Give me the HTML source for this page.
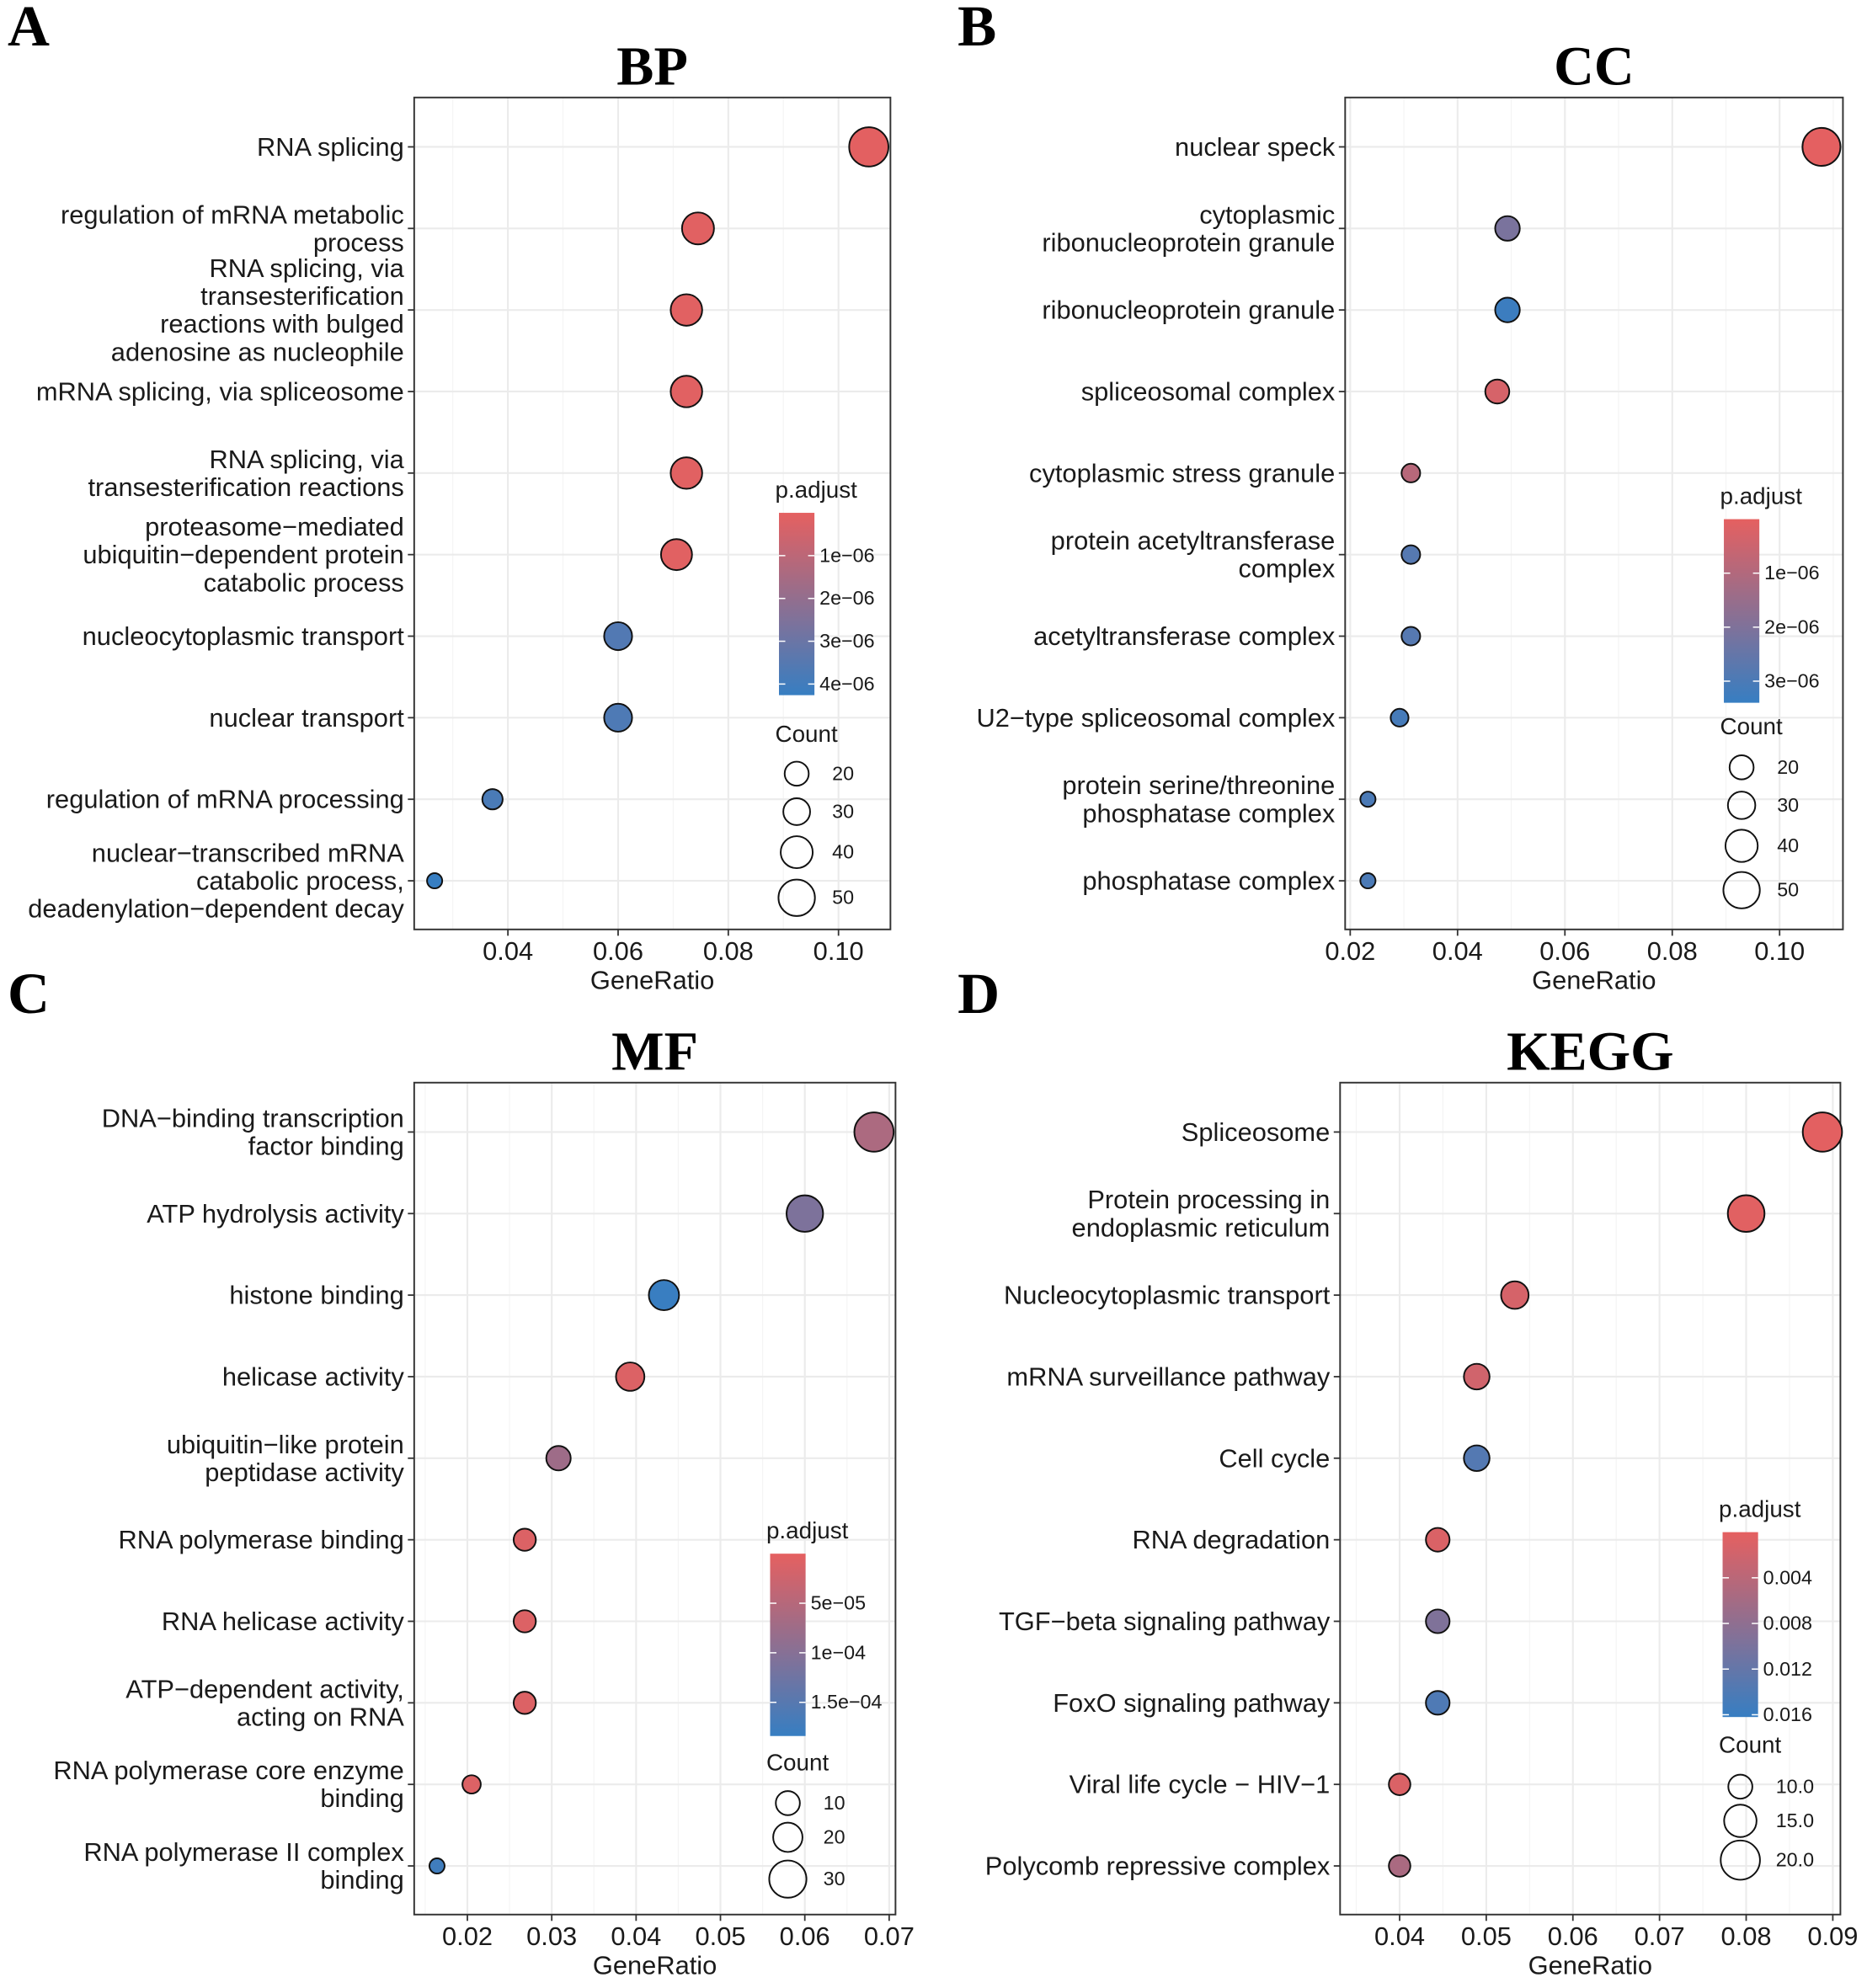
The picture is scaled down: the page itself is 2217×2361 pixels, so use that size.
<!DOCTYPE html>
<html><head><meta charset="utf-8"><style>html,body{margin:0;padding:0;background:#fff}svg{display:block}</style></head>
<body>
<svg id="fig" xmlns="http://www.w3.org/2000/svg" width="2217" height="2361" viewBox="0 0 1474 1570" preserveAspectRatio="none" font-family="Liberation Sans, Arial, sans-serif">
<rect width="1474" height="1570" fill="#fff"/>
</svg>
<script>
// ---- Data ----
const bpTerms = ["RNA splicing","regulation of mRNA metabolic\nprocess","RNA splicing, via\ntransesterification\nreactions with bulged\nadenosine as nucleophile","mRNA splicing, via spliceosome","RNA splicing, via\ntransesterification reactions","proteasome\u2212mediated\nubiquitin\u2212dependent protein\ncatabolic process","nucleocytoplasmic transport","nuclear transport","regulation of mRNA processing","nuclear\u2212transcribed mRNA\ncatabolic process,\ndeadenylation\u2212dependent decay"];
const bpRatio = [0.1055,0.0745,0.0724,0.0724,0.0724,0.0706,0.0600,0.0600,0.0372,0.0267];
const bpCount = [57,40,39,39,39,38,32,32,20,14];
const bpPadj = [0.05e-6,0.1e-6,0.1e-6,0.1e-6,0.1e-6,0.1e-6,3.6e-6,3.7e-6,3.8e-6,4.26e-6];
const bpXTicks = [0.04,0.06,0.08,0.10];
const bpXTickLabels = ["0.04","0.06","0.08","0.10"];
const bpCbTicks = [1e-6,2e-6,3e-6,4e-6];
const bpCbLabels = ["1e\u221206","2e\u221206","3e\u221206","4e\u221206"];
const bpSizeBreaks = [20,30,40,50];

const ccTerms = ["nuclear speck","cytoplasmic\nribonucleoprotein granule","ribonucleoprotein granule","spliceosomal complex","cytoplasmic stress granule","protein acetyltransferase\ncomplex","acetyltransferase complex","U2\u2212type spliceosomal complex","protein serine/threonine\nphosphatase complex","phosphatase complex"];
const ccRatio = [0.1078,0.0493,0.0493,0.0474,0.0313,0.0313,0.0313,0.0292,0.0233,0.0233];
const ccCount = [54,25,25,24,16,16,16,15,12,12];
const ccPadj = [0.02e-6,2.1e-6,3.3e-6,0.3e-6,0.9e-6,2.8e-6,2.8e-6,3.1e-6,3.0e-6,3.0e-6];
const ccXTicks = [0.02,0.04,0.06,0.08,0.10];
const ccXTickLabels = ["0.02","0.04","0.06","0.08","0.10"];
const ccCbTicks = [1e-6,2e-6,3e-6];
const ccCbLabels = ["1e\u221206","2e\u221206","3e\u221206"];
const ccSizeBreaks = [20,30,40,50];

const mfTerms = ["DNA\u2212binding transcription\nfactor binding","ATP hydrolysis activity","histone binding","helicase activity","ubiquitin\u2212like protein\npeptidase activity","RNA polymerase binding","RNA helicase activity","ATP\u2212dependent activity,\nacting on RNA","RNA polymerase core enzyme\nbinding","RNA polymerase II complex\nbinding"];
const mfRatio = [0.0682,0.0600,0.0433,0.0393,0.0308,0.0268,0.0268,0.0268,0.0205,0.0164];
const mfCount = [33,29,21,19,15,13,13,13,10,8];
const mfPadj = [6e-5,11e-5,18.2e-5,1e-5,7.5e-5,1e-5,1e-5,1e-5,1e-5,17.5e-5];
const mfXTicks = [0.02,0.03,0.04,0.05,0.06,0.07];
const mfXTickLabels = ["0.02","0.03","0.04","0.05","0.06","0.07"];
const mfCbTicks = [5e-5,1e-4,1.5e-4];
const mfCbLabels = ["5e\u221205","1e\u221204","1.5e\u221204"];
const mfSizeBreaks = [10,20,30];

const kgTerms = ["Spliceosome","Protein processing in\nendoplasmic reticulum","Nucleocytoplasmic transport","mRNA surveillance pathway","Cell cycle","RNA degradation","TGF\u2212beta signaling pathway","FoxO signaling pathway","Viral life cycle \u2212 HIV\u22121","Polycomb repressive complex"];
const kgRatio = [0.0888,0.0800,0.0533,0.0489,0.0489,0.0444,0.0444,0.0444,0.0400,0.0400];
const kgCount = [20,18,12,11,11,10,10,10,9,9];
const kgPadj = [0.0002,0.0004,0.0015,0.002,0.0135,0.001,0.0095,0.014,0.001,0.0055];
const kgXTicks = [0.04,0.05,0.06,0.07,0.08,0.09];
const kgXTickLabels = ["0.04","0.05","0.06","0.07","0.08","0.09"];
const kgCbTicks = [0.004,0.008,0.012,0.016];
const kgCbLabels = ["0.004","0.008","0.012","0.016"];
const kgSizeBreaks = [10,15,20];

// ---- Drawing ----
const NS="http://www.w3.org/2000/svg";
const svg=document.getElementById('fig');
function mk(tag,attrs,parent){const e=document.createElementNS(NS,tag);for(const k in attrs)e.setAttribute(k,attrs[k]);(parent||svg).appendChild(e);return e;}
const RED=[229,96,96],BLUE=[55,126,194];
function col(t){t=Math.max(0,Math.min(1,t));const c=RED.map((v,i)=>Math.round(v+(BLUE[i]-v)*t));return `rgb(${c[0]},${c[1]},${c[2]})`;}
const FS=20.5;

function panel(cfg){
  const g=mk('g',{});
  
  
  const L=cfg.box[0],T=cfg.box[1],R=cfg.box[2],B=cfg.box[3];
  const x=v=>cfg.x0px+(v-cfg.x0)/(cfg.x1-cfg.x0)*(cfg.x1px-cfg.x0px);
  const rowY=i=>cfg.row0+i*cfg.rowStep;
  const let_=mk('text',{x:cfg.letter[1],y:cfg.letter[2],'font-family':'Liberation Serif, serif','font-weight':'bold','font-size':46},g);
  let_.textContent=cfg.letter[0];
  
  
  const tt=mk('text',{x:(L+R)/2,y:T-10,'text-anchor':'middle','font-family':'Liberation Serif, serif','font-weight':'bold','font-size':44},g);
  tt.textContent=cfg.title;
  
  
  const step=cfg.xTicks[1]-cfg.xTicks[0];
  for(let v=cfg.xTicks[0]-step*2;v<=cfg.xTicks[cfg.xTicks.length-1]+step*2;v+=step/2){
    const px=x(v); if(px<=L||px>=R)continue;
    const major=cfg.xTicks.some(t=>Math.abs(t-v)<1e-9);
    mk('line',{x1:px,x2:px,y1:T,y2:B,stroke:major?'#EBEBEB':'#F4F4F4','stroke-width':major?1.4:0.8},g);
  }
  cfg.terms.forEach((t,i)=>mk('line',{x1:L,x2:R,y1:rowY(i),y2:rowY(i),stroke:'#EBEBEB','stroke-width':1.4},g));
  const box=mk('rect',{x:L,y:T,width:R-L,height:B-T,fill:'none',stroke:'#333','stroke-width':1.3},g);
  
  
  cfg.xTicks.forEach((v,i)=>{
    mk('line',{x1:x(v),x2:x(v),y1:B,y2:B+5,stroke:'#333','stroke-width':1.2},g);
    const tl=mk('text',{x:x(v),y:B+24,'text-anchor':'middle','font-size':FS,fill:'#1a1a1a'},g);
    tl.textContent=cfg.xLabels[i];
    
    
  });
  const xt=mk('text',{x:(L+R)/2,y:B+47,'text-anchor':'middle','font-size':FS,fill:'#1a1a1a'},g);
  xt.textContent='GeneRatio';
  
  
  cfg.terms.forEach((t,i)=>{
    const y=rowY(i);
    mk('line',{x1:L-5,x2:L,y1:y,y2:y,stroke:'#333','stroke-width':1.2},g);
    const lines=t.split('\n');
    const tx=mk('text',{x:L-8,'text-anchor':'end','font-size':FS,fill:'#1a1a1a'},g);
    
    
    lines.forEach((ln,j)=>{
      const ts=mk('tspan',{x:L-8,y:y+7+(j-(lines.length-1)/2)*22},tx);ts.textContent=ln;
    });
  });
  const cmin=Math.min(...cfg.count),cmax=Math.max(...cfg.count);
  const rad=c=>Math.sqrt(Math.max(4,cfg.rmin*cfg.rmin+(c-cmin)/(cmax-cmin)*(cfg.rmax*cfg.rmax-cfg.rmin*cfg.rmin)));
  const ct=p=>(p-cfg.cb0)/(cfg.cb1-cfg.cb0);
  cfg.terms.forEach((t,i)=>{
    const c=mk('circle',{cx:x(cfg.ratio[i]),cy:rowY(i),r:rad(cfg.count[i]),fill:col(ct(cfg.padj[i])),stroke:'#111','stroke-width':1.3},g);
    
    
  });
  const [cbx,cbTop,cbBot]=cfg.cb;
  const pt=mk('text',{x:cbx-3,y:cbTop-12,'font-size':18.5,fill:'#1a1a1a'},g);
  pt.textContent='p.adjust';
  
  
  const gid='grad'+cfg.name;
  const defs=mk('defs',{},g);
  const lg=mk('linearGradient',{id:gid,x1:0,y1:0,x2:0,y2:1},defs);
  for(let k=0;k<=10;k++)mk('stop',{offset:k/10,'stop-color':col(k/10)},lg);
  const cb=mk('rect',{x:cbx,y:cbTop,width:28,height:cbBot-cbTop,fill:`url(#${gid})`},g);
  
  
  const cy=p=>cbTop+ct(p)*(cbBot-cbTop);
  cfg.cbTicks.forEach((p,i)=>{
    mk('line',{x1:cbx,x2:cbx+5,y1:cy(p),y2:cy(p),stroke:'#fff','stroke-width':1},g);
    mk('line',{x1:cbx+23,x2:cbx+28,y1:cy(p),y2:cy(p),stroke:'#fff','stroke-width':1},g);
    const l=mk('text',{x:cbx+32,y:cy(p)+5,'font-size':15.5,fill:'#1a1a1a'},g);
    l.textContent=cfg.cbLabels[i];
    
    
  });
  const st=mk('text',{x:cbx-3,y:cfg.sizeTitleY,'font-size':18.5,fill:'#1a1a1a'},g);
  st.textContent='Count';
  
  
  cfg.sizeBreaks.forEach((c,i)=>{
    const yy=cfg.sizeYs[i];
    const cc=mk('circle',{cx:cbx+14,cy:yy,r:Math.max(9.5,rad(c)),fill:'none',stroke:'#111','stroke-width':1.3},g);
    
    
    const l=mk('text',{x:cbx+42,y:yy+5,'font-size':15.5,fill:'#1a1a1a'},g);
    l.textContent=cfg.sizeFmt?c.toFixed(1):String(c);
    
    
  });
}

panel({name:'bp',title:'BP',letter:['A',6,36],box:[327,77,703,734],x0:0.04,x1:0.10,x0px:401,x1px:662,row0:116,rowStep:64.4,
  terms:bpTerms,ratio:bpRatio,count:bpCount,padj:bpPadj,xTicks:bpXTicks,xLabels:bpXTickLabels,rmin:6,rmax:15.5,
  cb:[615,405,549],cb0:0,cb1:4.26e-6,cbTicks:bpCbTicks,cbLabels:bpCbLabels,sizeTitleY:586,sizeBreaks:bpSizeBreaks,sizeYs:[611,641,673,709]});
panel({name:'cc',title:'CC',letter:['B',756,36],box:[1062,77,1455,734],x0:0.02,x1:0.10,x0px:1066,x1px:1405,row0:116,rowStep:64.4,
  terms:ccTerms,ratio:ccRatio,count:ccCount,padj:ccPadj,xTicks:ccXTicks,xLabels:ccXTickLabels,rmin:6,rmax:15,
  cb:[1361,410,555],cb0:0,cb1:3.4e-6,cbTicks:ccCbTicks,cbLabels:ccCbLabels,sizeTitleY:580,sizeBreaks:ccSizeBreaks,sizeYs:[606,636,668,703]});
panel({name:'mf',title:'MF',letter:['C',6,800],box:[327,855,707,1512],x0:0.02,x1:0.07,x0px:369,x1px:702,row0:894,rowStep:64.4,
  terms:mfTerms,ratio:mfRatio,count:mfCount,padj:mfPadj,xTicks:mfXTicks,xLabels:mfXTickLabels,rmin:6,rmax:15.5,
  cb:[608,1227,1371],cb0:0,cb1:1.84e-4,cbTicks:mfCbTicks,cbLabels:mfCbLabels,sizeTitleY:1398,sizeBreaks:mfSizeBreaks,sizeYs:[1424,1451,1484]});
panel({name:'kegg',title:'KEGG',letter:['D',756,800],box:[1058,855,1453,1512],x0:0.04,x1:0.09,x0px:1105,x1px:1447,row0:894,rowStep:64.4,
  terms:kgTerms,ratio:kgRatio,count:kgCount,padj:kgPadj,xTicks:kgXTicks,xLabels:kgXTickLabels,rmin:8.5,rmax:15.5,sizeFmt:true,
  cb:[1360,1210,1356],cb0:0,cb1:0.0162,cbTicks:kgCbTicks,cbLabels:kgCbLabels,sizeTitleY:1384,sizeBreaks:kgSizeBreaks,sizeYs:[1411,1438,1469]});
</script>
</body></html>
